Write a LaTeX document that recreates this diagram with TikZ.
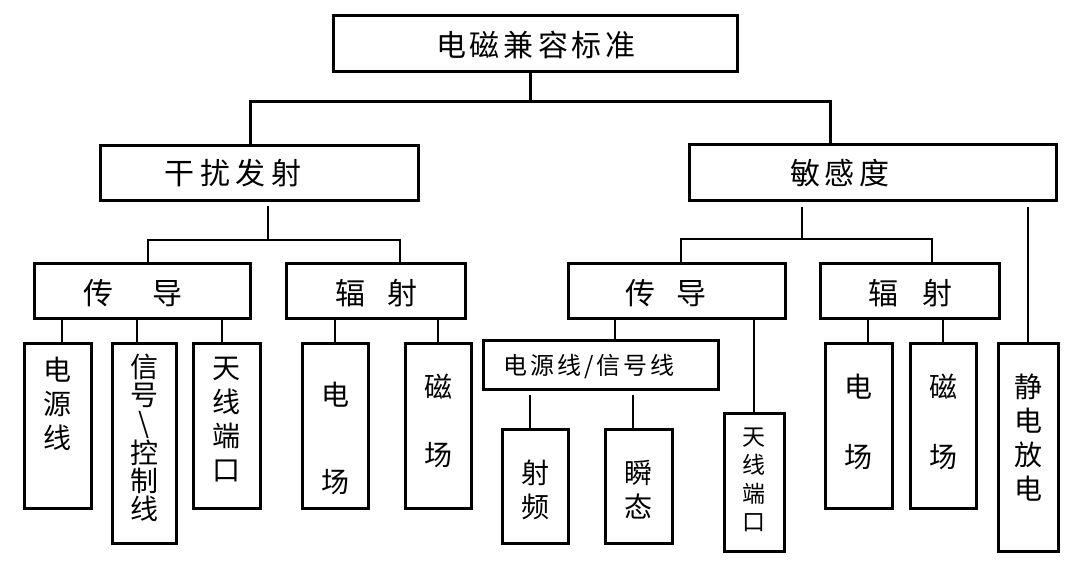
\documentclass[tikz,border=0pt]{standalone}
\usepackage{fontspec}
\newfontfamily\cjk{Noto Sans CJK SC}
\begin{document}
\begin{tikzpicture}[x=1pt,y=1pt,
  box/.style={draw,line width=3pt,inner sep=0pt,outer sep=0pt},
  conn/.style={line width=3pt},
  thinconn/.style={line width=1.3pt},
  ht/.style={font=\cjk\fontsize{#1}{#1}\selectfont,inner sep=0pt},
  vt/.style={font=\cjk\fontsize{28}{#1}\selectfont,inner sep=0pt,align=center},
  vts/.style={font=\cjk\fontsize{23}{#1}\selectfont,inner sep=0pt,align=center}]
\fill[white] (0,0) rectangle (1080,-570);
\useasboundingbox (0,0) rectangle (1080,-570);
% boxes
\node[box,minimum width=404,minimum height=56] (top) at (535,-43) {};
\node[box,minimum width=318,minimum height=55] (gr) at (259,-172.5) {};
\node[box,minimum width=367,minimum height=56] (ms) at (872.5,-172) {};
\node[box,minimum width=216,minimum height=55] (cdL) at (142,-290.5) {};
\node[box,minimum width=179,minimum height=55] (fsL) at (375.5,-290.5) {};
\node[box,minimum width=67,minimum height=165] (dyx) at (57.5,-425.5) {};
\node[box,minimum width=64,minimum height=200] (xh) at (144,-443) {};
\node[box,minimum width=67,minimum height=165] (txL) at (226.5,-425.5) {};
\node[box,minimum width=66,minimum height=165] (dcL) at (335,-425.5) {};
\node[box,minimum width=66,minimum height=165] (ccL) at (438,-425.5) {};
\node[box,minimum width=217,minimum height=55] (cdR) at (676.5,-290.5) {};
\node[box,minimum width=179,minimum height=55] (fsR) at (909.5,-290.5) {};
\node[box,minimum width=235,minimum height=49] (dx) at (600.5,-364.5) {};
\node[box,minimum width=66,minimum height=114] (sp) at (535,-486) {};
\node[box,minimum width=67,minimum height=114] (st) at (638.5,-486) {};
\node[box,minimum width=60,minimum height=138] (txR) at (754,-482) {};
\node[box,minimum width=67,minimum height=165] (dcR) at (858.5,-425.5) {};
\node[box,minimum width=66,minimum height=165] (ccR) at (943,-425.5) {};
\node[box,minimum width=60,minimum height=208] (jd) at (1028,-447) {};
% texts
\node[ht=30] (t-top) at (536,-45) {电\hspace{4pt}磁\hspace{4pt}兼\hspace{4pt}容\hspace{4pt}标\hspace{4pt}准};
\node[ht=30] (t-gr) at (233,-173) {干\hspace{5.5pt}扰\hspace{5.5pt}发\hspace{5.5pt}射};
\node[ht=30] (t-ms) at (840,-173) {敏\hspace{5pt}感\hspace{5pt}度};
\node[ht=30] (t-cdL) at (133,-293) {传\hspace{40pt}导};
\node[ht=30] (t-fsL) at (376.5,-293) {辐\hspace{23pt}射};
\node[ht=30] (t-cdR) at (666,-293) {传\hspace{22pt}导};
\node[ht=30] (t-fsR) at (910,-293) {辐\hspace{24pt}射};
\node[ht=24] (t-dx) at (589,-367) {电\hspace{3pt}源\hspace{3pt}线\hspace{3pt}/\hspace{3pt}信\hspace{3pt}号\hspace{3pt}线};
\node[vt=34] (t-dyx) at (57.5,-404) {电\\源\\线};
\node[vt=28] (t-xh) at (144,-438) {信\\号\\\textbackslash\\控\\制\\线};
\node[vt=34] (t-txL) at (226.5,-420) {天\\线\\端\\口};
\node[vt=87] (t-dcL) at (335,-438.5) {电\\场};
\node[vt=68] (t-ccL) at (438,-421) {磁\\场};
\node[vt=34] (t-sp) at (535,-490) {射\\频};
\node[vt=34] (t-st) at (638.5,-490) {瞬\\态};
\node[vts=28.5] (t-txR) at (754,-480) {天\\线\\端\\口};
\node[vt=70] (t-dcR) at (858.5,-422) {电\\场};
\node[vt=70] (t-ccR) at (943,-422) {磁\\场};
\node[vt=34] (t-jd) at (1028,-438) {静\\电\\放\\电};
% junction coordinates
\coordinate (tm) at (530,-101);
\coordinate (tl) at (250,-101);
\coordinate (tr) at (830,-101);
\coordinate (gm) at (268,-240);
\coordinate (gl) at (148,-240);
\coordinate (gr2) at (400,-240);
\coordinate (mm) at (802,-239);
\coordinate (ml) at (681,-239);
\coordinate (mr) at (932,-239);
% thick connectors
\draw[conn] (top.south -| tm) -- (tm);
\draw[conn] (gr.north -| tl) -- (tl) -- (tr) -- (ms.north -| tr);
% thin connectors
\draw[thinconn] ([yshift=-6pt]gr.south -| gm) -- (gm);
\draw[thinconn] (cdL.north -| gl) -- (gl) -- (gr2) -- (fsL.north -| gr2);
\draw[thinconn] ([yshift=-7pt]ms.south -| mm) -- (mm);
\draw[thinconn] (cdR.north -| ml) -- (ml) -- (mr) -- (fsR.north -| mr);
\draw[thinconn] ([yshift=-7pt]ms.south -| jd.north) -- (jd.north);
\draw[thinconn] ([xshift=4.5pt]dyx.north) -- ([xshift=4.5pt]dyx.north |- cdL.south);
\draw[thinconn] ([xshift=-7pt]xh.north) -- ([xshift=-7pt]xh.north |- cdL.south);
\draw[thinconn] ([xshift=-4.5pt]txL.north) -- ([xshift=-4.5pt]txL.north |- cdL.south);
\draw[thinconn] (dcL.north) -- (dcL.north |- fsL.south);
\draw[thinconn] (ccL.north) -- (ccL.north |- fsL.south);
\draw[thinconn] ([xshift=14.5pt]dx.north) -- ([xshift=14.5pt]dx.north |- cdR.south);
\draw[thinconn] (txR.north) -- (txR.north |- cdR.south);
\draw[thinconn] ([xshift=-5pt]sp.north) -- ([xshift=-5pt,yshift=-6pt]sp.north |- dx.south);
\draw[thinconn] ([xshift=-5.5pt]st.north) -- ([xshift=-5.5pt,yshift=-6pt]st.north |- dx.south);
\draw[thinconn] ([xshift=9.5pt]dcR.north) -- ([xshift=9.5pt]dcR.north |- fsR.south);
\draw[thinconn] (ccR.north) -- (ccR.north |- fsR.south);
\end{tikzpicture}
\end{document}
